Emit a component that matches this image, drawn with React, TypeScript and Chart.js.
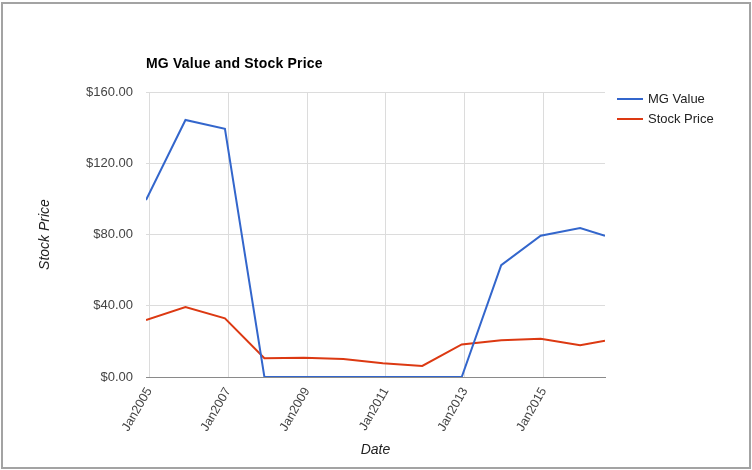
import React, { useEffect, useRef } from "react";
import { Chart, registerables } from "chart.js";

Chart.register(...registerables);

// ---- data ----
const dates = [2004.92, 2005.92, 2006.92, 2007.92, 2008.92, 2009.92, 2010.92, 2011.92, 2012.92, 2013.92, 2014.92, 2015.92, 2016.55];
const mgValue = [99.3, 144.3, 139.3, 0, 0, 0, 0, 0, 0, 62.8, 79.3, 83.6, 79.3];
const stockPrice = [32.0, 39.3, 32.9, 10.5, 10.8, 10.1, 7.7, 6.2, 18.3, 20.6, 21.5, 17.8, 20.4];
const xTickYears = [2005, 2007, 2009, 2011, 2013, 2015];
const seriesNames = ["MG Value", "Stock Price"];
const chartTitle = "MG Value and Stock Price";
const xAxisTitle = "Date";
const yAxisTitle = "Stock Price";

const FONT = "Arial, 'Liberation Sans', sans-serif";

const titlePlugin = {
  id: "leftTitle",
  afterDraw(chart: any) {
    const { ctx, chartArea } = chart;
    ctx.save();
    ctx.font = `bold 14px ${FONT}`;
    try {
      (ctx as any).letterSpacing = "0.2px";
    } catch (e) {}
    ctx.fillStyle = "#000";
    ctx.textAlign = "left";
    ctx.textBaseline = "alphabetic";
    ctx.fillText(chartTitle, chartArea.left, 68);
    ctx.restore();
  },
};

const legendPlugin = {
  id: "sideLegend",
  afterDraw(chart: any) {
    const { ctx, chartArea } = chart;
    ctx.save();
    ctx.font = `13px ${FONT}`;
    ctx.textBaseline = "middle";
    chart.data.datasets.forEach((ds: any, i: number) => {
      const y = chartArea.top + 7 + i * 20;
      const x0 = chartArea.right + 12;
      ctx.strokeStyle = ds.borderColor;
      ctx.lineWidth = 2;
      ctx.beginPath();
      ctx.moveTo(x0, y);
      ctx.lineTo(x0 + 26, y);
      ctx.stroke();
      ctx.fillStyle = "#222";
      ctx.fillText(ds.label, x0 + 31, y);
    });
    ctx.restore();
  },
};

export default function App() {
  const ref = useRef<HTMLCanvasElement | null>(null);

  useEffect(() => {
    document.body.style.margin = "0";
    if (!ref.current) return;
    const chart = new Chart(ref.current, {
      type: "line",
      data: {
        datasets: [
          {
            label: seriesNames[0],
            data: dates.map((d, i) => ({ x: d, y: mgValue[i] })),
            borderColor: "#3366cc",
            backgroundColor: "#3366cc",
            borderWidth: 2,
            pointRadius: 0,
            tension: 0,
          },
          {
            label: seriesNames[1],
            data: dates.map((d, i) => ({ x: d, y: stockPrice[i] })),
            borderColor: "#dc3912",
            backgroundColor: "#dc3912",
            borderWidth: 2,
            pointRadius: 0,
            tension: 0,
          },
        ],
      },
      options: {
        animation: false,
        responsive: false,
        layout: { padding: { top: 92, right: 147, left: 0, bottom: 0 } },
        plugins: {
          legend: { display: false },
          title: { display: false },
          tooltip: { enabled: false },
        },
        scales: {
          x: {
            type: "linear",
            min: dates[0],
            max: dates[dates.length - 1],
            afterBuildTicks: (axis: any) => {
              axis.ticks = xTickYears.map((v) => ({ value: v }));
            },
            afterFit: (scale: any) => {
              scale.height = 93;
            },
            grid: { color: "#dcdcdc", drawTicks: false, lineWidth: 1 },
            border: { display: true, color: "#8a8a8a", width: 1 },
            ticks: {
              autoSkip: false,
              minRotation: 60,
              maxRotation: 60,
              padding: 8,
              color: "#444",
              font: { family: FONT, size: 12.5 },
              callback: (v: any) => "Jan" + v,
            },
            title: {
              display: true,
              text: xAxisTitle,
              color: "#222",
              font: { family: FONT, size: 14, style: "italic" },
              padding: { top: 0, bottom: 11 },
            },
          },
          y: {
            min: 0,
            max: 160,
            afterFit: (scale: any) => {
              scale.width = 146;
            },
            grid: { color: "#dcdcdc", drawTicks: false, lineWidth: 1 },
            border: { display: false },
            ticks: {
              stepSize: 40,
              padding: 13,
              color: "#444",
              font: { family: FONT, size: 13 },
              callback: (v: any) => "$" + Number(v).toFixed(2),
            },
            title: {
              display: true,
              text: yAxisTitle,
              color: "#222",
              font: { family: FONT, size: 14, style: "italic" },
              padding: { top: 37, bottom: 0 },
            },
          },
        },
      },
      plugins: [titlePlugin, legendPlugin],
    });
    return () => chart.destroy();
  }, []);

  return (
    <div style={{ position: "relative", width: 752, height: 470, background: "#fff" }}>
      <canvas ref={ref} width={752} height={470} style={{ display: "block" }} />
      <div
        style={{
          position: "absolute",
          left: 1,
          top: 2,
          width: 746,
          height: 463,
          border: "2px solid #a3a3a3",
          pointerEvents: "none",
        }}
      />
    </div>
  );
}
